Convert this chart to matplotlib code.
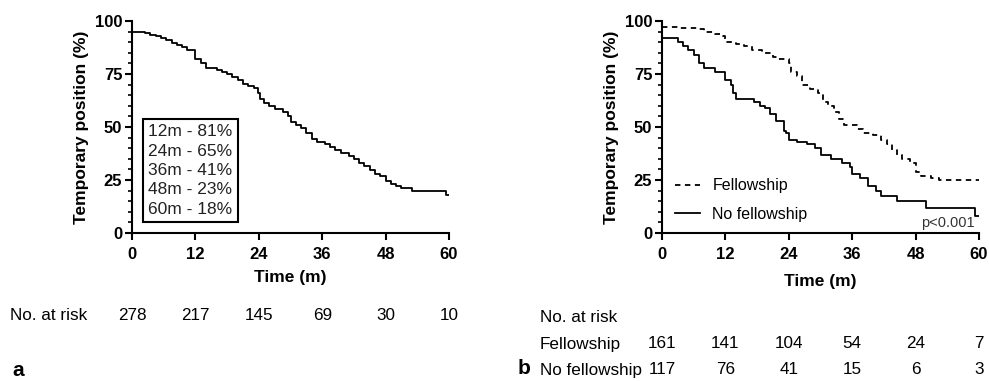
import matplotlib
matplotlib.use("Agg")
import matplotlib.pyplot as plt
from matplotlib import transforms
from matplotlib.ticker import MultipleLocator

plt.rcParams['font.family'] = ['Liberation Sans', 'DejaVu Sans']

# Panel a - alle Patienten
left_t = [0, 2.5, 3.5, 4.5, 5.5, 6.5, 7.5, 8.5, 9.5, 10.5, 12, 13, 14, 16, 17, 18, 19, 20, 21, 22, 23,
          23.8, 24.2, 25, 26, 27, 28.5, 29.5, 30, 31, 32, 33, 34, 35, 36.5, 37.5, 38.5, 39.5, 41, 42,
          43, 44, 45, 46, 47, 48, 49, 50, 51, 53, 59.5, 60]
left_s = [95, 94.5, 93.5, 93, 92, 91, 89.5, 88.5, 87.5, 86.5, 82, 80, 78, 77, 76, 75, 73.5, 72, 70.5,
          69.5, 68.5, 66, 63, 61.5, 60, 58.5, 57, 55, 52.5, 51, 49.5, 47, 44.5, 43, 42, 40.5, 39, 37.5,
          36.5, 35, 33, 31.5, 29.5, 28, 27, 24.5, 23, 22, 21, 20, 18, 18]
box_lines = ["12m - 81%", "24m - 65%", "36m - 41%", "48m - 23%", "60m - 18%"]
left_risk = [278, 217, 145, 69, 30, 10]

# Panel b - Fellowship vs. keine Fellowship
fel_t = [0, 3, 7, 8, 10, 11.5, 12, 14, 15.5, 17, 19, 21, 22, 24, 24.5, 25.5, 26.5, 28, 29.5, 30.5,
         31.5, 32.5, 33.5, 34.5, 37, 38, 40, 41.5, 42.5, 43.5, 44.5, 45.5, 47, 48, 49, 51, 52.5, 60]
fel_s = [97, 96.5, 96, 95, 94, 93, 90, 89, 88, 86.5, 85, 83, 82, 80, 76, 74, 70, 68, 66, 62, 60, 57,
         54, 51, 49, 47, 46, 44, 42, 39, 37, 35, 33, 29, 27, 26, 25, 25]
nof_t = [0, 3, 4, 5, 6, 7, 8, 10, 12, 13, 13.5, 14, 17.5, 18.5, 19.5, 20.5, 21.5, 23, 23.5, 24, 25.5,
         27.5, 29, 30, 32, 34, 35.5, 36, 37.5, 39, 40.5, 41.5, 44.5, 50, 59.3, 60]
nof_s = [92, 90, 88, 86.5, 84, 80, 78, 76, 72, 70, 66, 63, 62, 60, 59, 56, 53, 48, 47, 44, 43, 42, 40,
         37, 35, 33, 31, 28, 26, 22, 20, 17.5, 15, 12, 8, 8]
fel_risk = [161, 141, 104, 54, 24, 7]
nof_risk = [117, 76, 41, 15, 6, 3]
risk_times = [0, 12, 24, 36, 48, 60]

RISK_FS = 12.3

fig = plt.figure(figsize=(9.89, 3.81), dpi=100)
ax1 = fig.add_axes([132/989, 1-233/381, 317/989, 212/381])
ax2 = fig.add_axes([662/989, 1-233/381, 317/989, 212/381])


def style_axes(ax):
    ax.set_xlim(0, 60)
    ax.set_ylim(0, 100)
    ax.xaxis.set_major_locator(MultipleLocator(12))
    ax.yaxis.set_major_locator(MultipleLocator(25))
    ax.yaxis.set_minor_locator(MultipleLocator(5))
    for sp in ['top', 'right']:
        ax.spines[sp].set_visible(False)
    for sp in ['left', 'bottom']:
        ax.spines[sp].set_linewidth(1.5)
    ax.tick_params(which='major', length=5, width=1.5, labelsize=12, pad=2)
    ax.tick_params(axis='x', pad=5)
    ax.tick_params(which='minor', length=3, width=1.2)
    for lab in ax.get_xticklabels() + ax.get_yticklabels():
        lab.set_fontweight('bold')
    ax.set_xlabel('Time (m)', fontsize=12.5, fontweight='bold', labelpad=6)
    ax.set_ylabel('Temporary position (%)', fontsize=12.5, fontweight='bold', labelpad=4)


# a
ax1.step(left_t, left_s, where='post', color='black', lw=1.3)
style_axes(ax1)
ax1.text(0.184, 0.295, "\n".join(box_lines), transform=ax1.transAxes, ha='center', va='center',
         fontsize=12.5, color='#222222', linespacing=1.36,
         bbox=dict(boxstyle='square,pad=0.3', fc='white', ec='black', lw=1.5))

# b
l1, = ax2.step(fel_t, fel_s, where='post', color='black', lw=1.3, label='Fellowship')
l1.set_dashes([3, 2.5])
ax2.step(nof_t, nof_s, where='post', color='black', lw=1.3, label='No fellowship')
style_axes(ax2)
ax2.xaxis.labelpad = 9
ax2.legend(loc='lower left', bbox_to_anchor=(0.005, 0.0), frameon=False, fontsize=11.5,
           handlelength=1.6, handletextpad=0.75, labelspacing=0.85, borderaxespad=0.3)
ax2.text(0.985, 0.047, 'p<0.001', transform=ax2.transAxes, ha='right', va='center',
         fontsize=10.5, color='#333333')

# No. at risk
tr1 = transforms.blended_transform_factory(ax1.transData, fig.transFigure)
tr2 = transforms.blended_transform_factory(ax2.transData, fig.transFigure)
fig.text(10/989, 1-315/381, 'No. at risk', fontsize=RISK_FS, va='center', ha='left')
for t, n in zip(risk_times, left_risk):
    fig.text(t, 1-315/381, str(n), transform=tr1, fontsize=RISK_FS, ha='center', va='center')

fig.text(540/989, 1-318/381, 'No. at risk', fontsize=RISK_FS, va='center', ha='left')
fig.text(540/989, 1-344/381, 'Fellowship', fontsize=RISK_FS, va='center', ha='left')
fig.text(540/989, 1-370/381, 'No fellowship', fontsize=RISK_FS, va='center', ha='left')
for t, n1, n2 in zip(risk_times, fel_risk, nof_risk):
    fig.text(t, 1-344/381, str(n1), transform=tr2, fontsize=RISK_FS, ha='center', va='center')
    fig.text(t, 1-370/381, str(n2), transform=tr2, fontsize=RISK_FS, ha='center', va='center')

fig.text(12/989, 1-370/381, 'a', fontsize=15, fontweight='bold', va='center', ha='left')
fig.text(518/989, 1-369/381, 'b', fontsize=15, fontweight='bold', va='center', ha='left')

fig.savefig('out.png', dpi=100)
